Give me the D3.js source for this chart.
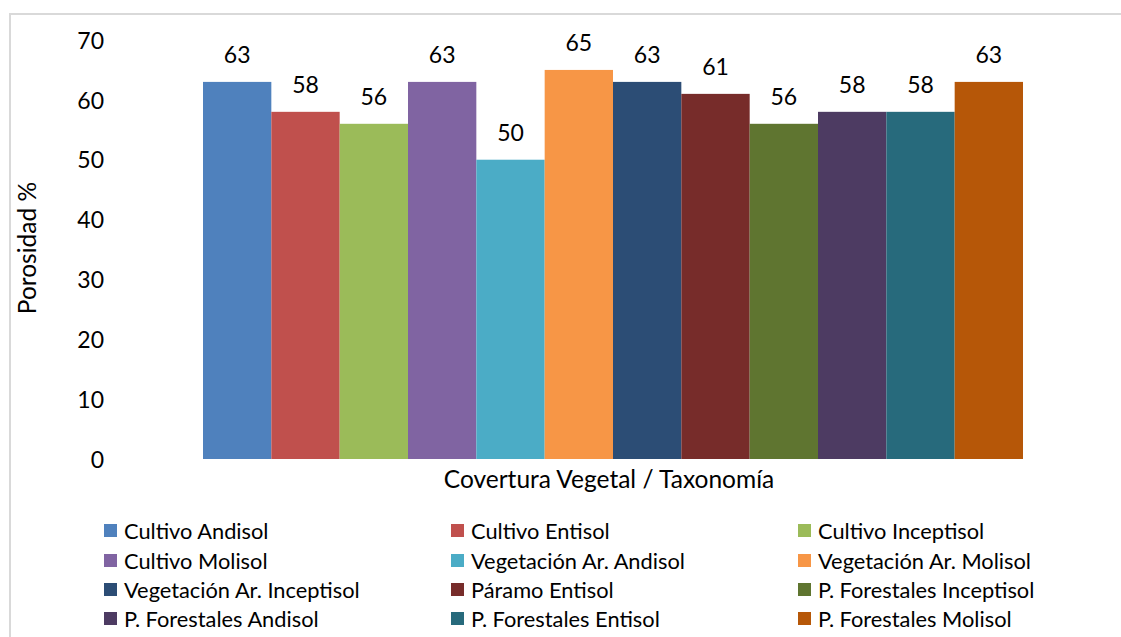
<!DOCTYPE html>
<html><head><meta charset="utf-8">
<script src="https://cdn.jsdelivr.net/npm/d3@7"></script>
<style>body{margin:0;background:#fff}svg{display:block}text{font-family:Lato,"Open Sans",sans-serif;fill:#000}</style>
</head><body><svg id="c" width="1121" height="637"></svg>
<script>
const categories = ["Cultivo Andisol","Cultivo Entisol","Cultivo Inceptisol","Cultivo Molisol","Vegetación Ar. Andisol","Vegetación Ar. Molisol","Vegetación Ar. Inceptisol","Páramo Entisol","P. Forestales Inceptisol","P. Forestales Andisol","P. Forestales Entisol","P. Forestales Molisol"];
const values = [63,58,56,63,50,65,63,61,56,58,58,63];
const colors = ["#4F81BD","#C0504D","#9BBB59","#8064A2","#4BACC6","#F79646","#2C4D75","#772C2A","#5F7530","#4D3B62","#276A7C","#B65708"];
const yTicks = [0,10,20,30,40,50,60,70];
const xTitle = "Covertura Vegetal / Taxonomía";
const yTitle = "Porosidad %";

const svg = d3.select("#c");
svg.append("rect").attr("x",10).attr("y",14).attr("width",1130).attr("height",640)
  .attr("fill","none").attr("stroke","#d9d9d9").attr("stroke-width",2);

const y = d3.scaleLinear().domain([0,70]).range([459,40]);
const x = d3.scaleBand().domain(categories).range([203,1023]).padding(0);

const yAxis = svg.append("g").attr("transform","translate(104,0)")
  .call(d3.axisLeft(y).tickValues(yTicks).tickSize(0).tickPadding(0));
yAxis.select(".domain").remove();
yAxis.selectAll("text").attr("font-size",23).attr("font-family","Lato").attr("fill","#000").attr("dy","0.36em");

svg.append("g").selectAll("rect").data(values).join("rect")
  .attr("x",(d,i)=>x(categories[i])).attr("width",x.bandwidth())
  .attr("y",d=>y(d)).attr("height",d=>y(0)-y(d))
  .attr("fill",(d,i)=>colors[i]);

svg.append("g").selectAll("text").data(values).join("text")
  .attr("x",(d,i)=>x(categories[i])+x.bandwidth()/2)
  .attr("y",d=>y(d)-19).attr("text-anchor","middle").attr("font-size",23)
  .text(d=>d);

svg.append("text").attr("x",609).attr("y",488).attr("text-anchor","middle").attr("font-size",24.5).text(xTitle);
svg.append("text").attr("transform","translate(36,248) rotate(-90)").attr("text-anchor","middle").attr("font-size",24.5).text(yTitle);

const colX = [104,451,798];
const rowY = [531,561,590,619];
const leg = svg.append("g").selectAll("g").data(categories).join("g")
  .attr("transform",(d,i)=>`translate(${colX[i%3]},${rowY[Math.floor(i/3)]})`);
leg.append("rect").attr("x",0).attr("y",-7).attr("width",13).attr("height",13).attr("fill",(d,i)=>colors[i]);
leg.append("text").attr("x",20).attr("y",0).attr("dy","0.36em").attr("font-size",21.8).text(d=>d);
</script></body></html>
